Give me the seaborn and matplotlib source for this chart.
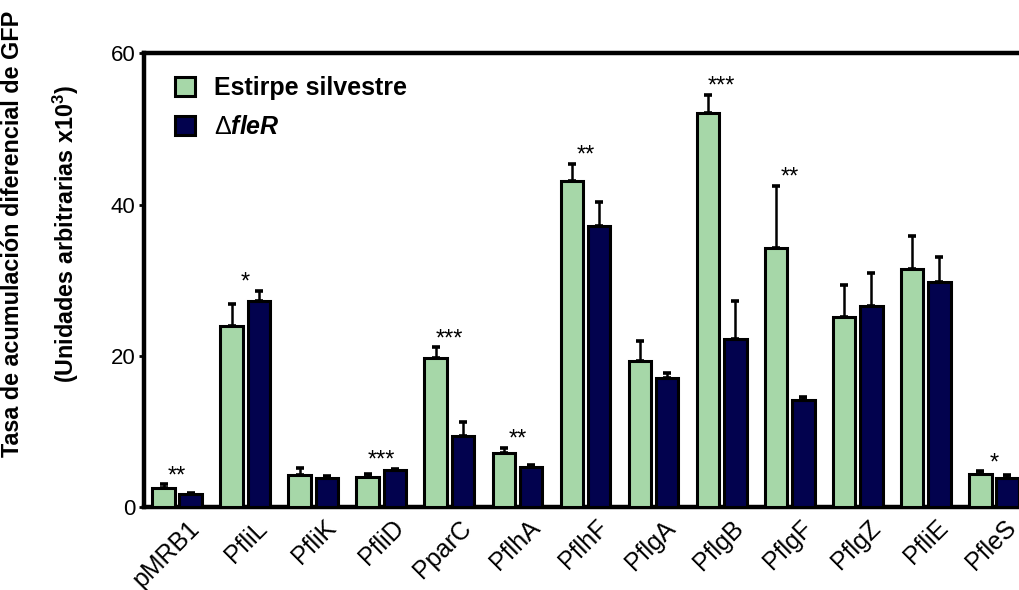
import numpy as np
import pandas as pd
import matplotlib
matplotlib.use("Agg")
import matplotlib.pyplot as plt
from matplotlib.patches import Patch
from matplotlib.transforms import ScaledTranslation
import seaborn as sns

# Promoter fusions and GFP accumulation rates (x10^3 arbitrary units)
genes = ["pMRB1", "PfliL", "PfliK", "PfliD", "PparC", "PflhA", "PflhF",
         "PflgA", "PflgB", "PflgF", "PflgZ", "PfliE", "PfleS"]
wild_type = [2.5, 23.9, 4.2, 4.0, 19.7, 7.2, 43.1, 19.3, 52.1, 34.3, 25.1, 31.5, 4.3]
wild_type_sem = [0.5, 2.9, 1.0, 0.3, 1.4, 0.6, 2.3, 2.6, 2.4, 8.2, 4.2, 4.4, 0.4]
fler_mutant = [1.7, 27.3, 3.8, 4.9, 9.4, 5.3, 37.2, 17.0, 22.2, 14.2, 26.6, 29.8, 3.9]
fler_mutant_sem = [0.15, 1.3, 0.3, 0.15, 1.8, 0.2, 3.2, 0.7, 5.1, 0.3, 4.3, 3.3, 0.3]
significance = ["**", "*", "", "***", "***", "**", "**", "", "***", "**", "", "", "*"]

strain_labels = ["Estirpe silvestre", r"$\Delta\mathbfit{fleR}$"]
GREEN = "#A6D7A8"
NAVY = "#02024E"

sns.set_theme(style="ticks")
plt.rcParams["font.family"] = ["Liberation Sans", "DejaVu Sans"]
plt.rcParams["text.color"] = "black"
plt.rcParams["axes.labelcolor"] = "black"
plt.rcParams["mathtext.fontset"] = "custom"
plt.rcParams["mathtext.rm"] = "Liberation Sans"
plt.rcParams["mathtext.it"] = "Liberation Sans:italic"
plt.rcParams["mathtext.bf"] = "Liberation Sans:bold"
plt.rcParams["mathtext.bfit"] = "Liberation Sans:bold:italic"

df = pd.DataFrame({
    "gene": genes * 2,
    "strain": [strain_labels[0]] * len(genes) + [strain_labels[1]] * len(genes),
    "value": wild_type + fler_mutant,
})

fig = plt.figure(figsize=(10.19, 5.90), dpi=100)
ax = fig.add_axes([144 / 1019, 83 / 590, 883 / 1019, 453.7 / 590])

sns.barplot(data=df, x="gene", y="value", hue="strain",
            palette=[GREEN, NAVY], saturation=1, edgecolor="black",
            linewidth=2.2, width=0.8, gap=0.167, errorbar=None,
            legend=False, ax=ax, zorder=3)

# One-sided (upward) error bars on top of each bar
for container, sem in zip(ax.containers, [wild_type_sem, fler_mutant_sem]):
    xs = [b.get_x() + b.get_width() / 2 for b in container]
    ys = [b.get_height() for b in container]
    ax.errorbar(xs, ys, yerr=[np.zeros(len(sem)), sem], fmt="none",
                ecolor="black", elinewidth=1.8, capsize=3, capthick=2.6,
                zorder=2)

# Significance stars above each pair
for i, s in enumerate(significance):
    if not s:
        continue
    top = max(wild_type[i] + wild_type_sem[i], fler_mutant[i] + fler_mutant_sem[i])
    ax.text(i, top + 0.3, s, ha="center", va="baseline", fontsize=17,
            color="black")

ax.set_xlim(-0.488, 12.488)
ax.set_ylim(0, 60)
ax.set_yticks([0, 20, 40, 60])
ax.set_xlabel("")
ax.set_ylabel("Tasa de acumulación diferencial de GFP\n"
              r"(Unidades arbitrarias x10$^{\mathbf{3}}$)",
              fontsize=16.8, fontweight="bold", linespacing=2.2, color="black")
ax.yaxis.set_label_coords(-0.0708, 0.602)

for side in ["left", "bottom", "top", "right"]:
    ax.spines[side].set_linewidth(3.2)
    ax.spines[side].set_color("black")

ax.tick_params(axis="y", length=3.6, width=2, pad=2.7, labelsize=16,
               colors="black")
ax.tick_params(axis="x", length=0, pad=2, labelsize=18, colors="black")
label_shift = ScaledTranslation(10 / 100, -6 / 100, fig.dpi_scale_trans)
for lbl in ax.get_xticklabels():
    lbl.set_rotation(45)
    lbl.set_ha("right")
    lbl.set_va("top")
    lbl.set_rotation_mode("anchor")
    lbl.set_transform(lbl.get_transform() + label_shift)

handles = [Patch(facecolor=GREEN, edgecolor="black", linewidth=2.2),
           Patch(facecolor=NAVY, edgecolor="black", linewidth=2.2)]
ax.legend(handles, strain_labels, loc="upper left",
          bbox_to_anchor=(31 / 883, 1 - 23 / 453.7), frameon=False,
          prop={"weight": "bold", "size": 18}, handlelength=0.8,
          handleheight=0.8, handletextpad=0.75, labelspacing=0.59,
          borderpad=0, borderaxespad=0)

fig.savefig("out.png", dpi=100)
